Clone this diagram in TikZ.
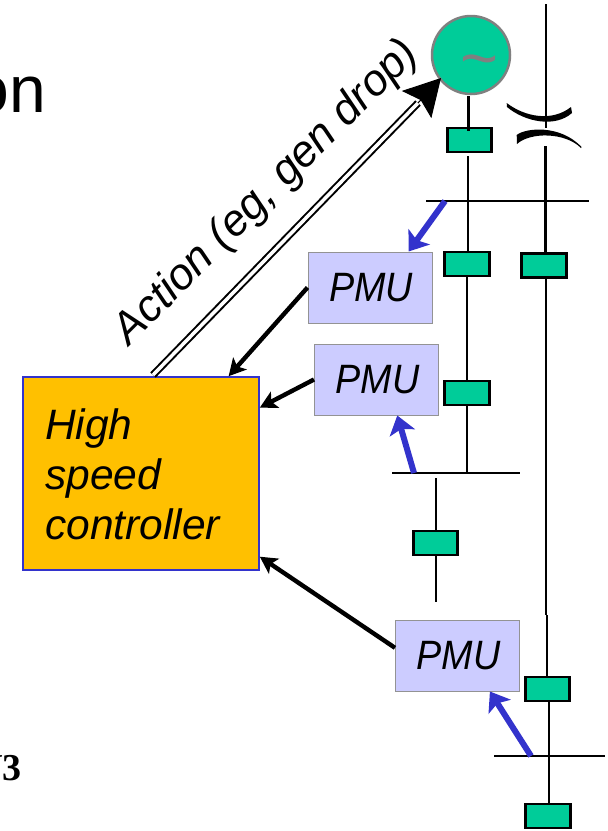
\documentclass[tikz,border=0pt]{standalone}
\usepackage{fontspec}
\setmainfont{Liberation Sans}
\newfontfamily\serifbold{Liberation Serif}
\newfontfamily\pmufont[FakeStretch=0.92]{Liberation Sans}
\usetikzlibrary{arrows.meta}
\definecolor{breakergreen}{HTML}{00CC99}
\definecolor{pmufill}{HTML}{CCCCFF}
\definecolor{ctrlfill}{HTML}{FFC000}
\definecolor{pmublue}{HTML}{3333CC}
\newcommand{\pmulabel}{\hspace{2pt}\raisebox{-1.5pt}{PMU}}
\tikzset{
  x=1pt,y=-1pt,
  breaker/.style={draw=black,line width=2.6pt,fill=breakergreen,minimum width=44.5pt,minimum height=24pt,inner sep=0pt,outer sep=0pt},
  pmubox/.style={draw=gray!85,line width=1pt,fill=pmufill,minimum width=124pt,minimum height=71pt,inner sep=0pt,font=\pmufont\fontsize{41}{41}\selectfont\itshape},
  wire/.style={draw=black,line width=2.5pt},
  busbar/.style={draw=black,line width=2.2pt},
  signal/.style={draw=black,line width=4.4pt,-{Stealth[length=17pt,width=18pt,inset=4pt]}},
  tap/.style={draw=pmublue,line width=6pt,-{Stealth[length=18pt,width=26pt,inset=4pt]}},
  ctrllabel/.style={anchor=base west,inner sep=0pt,font=\fontsize{42.5}{50}\selectfont\itshape},
}
\begin{document}
\begin{tikzpicture}
\useasboundingbox (0,0) rectangle (608,831);
\clip (0,0) rectangle (608,831);
\fill[white] (0,0) rectangle (608,831);
% clipped slide text
\node[anchor=base east,inner sep=0pt,font=\fontsize{66}{66}\selectfont] (title) at (46,112) {on};
\node[anchor=base east,inner sep=0pt,font=\serifbold\bfseries\fontsize{38}{38}\selectfont] (pagenum) at (22,780) {V3};
% bus bars
\coordinate (b1w) at (426,201); \coordinate (b1e) at (589,201);
\coordinate (b2w) at (392,473); \coordinate (b2e) at (520,473);
\coordinate (b3w) at (494,756); \coordinate (b3e) at (605,756);
\draw[busbar] (b1w) -- (b1e);
\draw[busbar] (b2w) -- (b2e);
\draw[busbar] (b3w) -- (b3e);
% generator
\node[circle,draw=gray,line width=2.5pt,fill=breakergreen,minimum size=78pt,inner sep=0pt] (gen) at (471,55) {};
\node[text=gray,inner sep=0pt,font=\fontsize{65}{65}\selectfont] (tilde) at (479,68) {\char"007E};
% wire ends
\coordinate (topr) at (546,4);
\coordinate (capa) at (546,128);
\coordinate (t2a) at (436,478); \coordinate (t2b) at (436,602);
% wires
\draw[wire] (topr) -- (capa);
\draw[wire] (468.5,96) -- (468.5,131);
\draw[wire] (468,156) -- (468,251);
\draw[wire] (545.5,146) -- (545.5,253);
\draw[wire] (467,277) -- (467,473);
\draw[wire] (t2a) -- (t2b);
\draw[wire] (546,279) -- (546,615);
\draw[wire] (547,615) -- (547,676);
\draw[wire] (549,702) -- (549,803);
% capacitor
\fill[black] (506.7,103) .. controls (525,117) and (552,122) .. (571,107) -- (572,113) .. controls (555,128) and (525,122) .. (507,107) -- cycle;
\fill[black] (516.7,135) .. controls (525,128) and (560,124) .. (581.5,147) -- (581,148) .. controls (565,132) and (530,132) .. (517,144) -- cycle;
% breakers
\node[breaker] (br1) at (469.5,140) {};
\draw[wire] (468.5,127) -- (468.5,131);
\node[breaker] (br2) at (467,264) {};
\node[breaker] (br3) at (544,265.5) {};
\node[breaker] (br4) at (467,393) {};
\node[breaker] (br5) at (435.5,543) {};
\node[breaker] (br6) at (547.5,689) {};
\node[breaker] (br7) at (548,816) {};
% controller
\node[draw=pmublue,line width=1.6pt,fill=ctrlfill,minimum width=236pt,minimum height=193pt,inner sep=0pt] (ctrl) at (141,473.5) {};
\node[ctrllabel] (ctrltext) at (45,439) {High};
\node[ctrllabel] (ctrltextb) at (45,489) {speed};
\node[ctrllabel] (ctrltextc) at (45,539) {controller};
% PMUs
\node[pmubox] (pmua) at (370,287.5) {\pmulabel};
\node[pmubox] (pmub) at (376.5,379.5) {\pmulabel};
\node[pmubox] (pmuc) at (457.5,655.5) {\pmulabel};
% signals
\draw[signal] (pmua.west) -- (ctrl.48.6);
\draw[signal] (pmub.west) -- (ctrl.29.8);
\draw[signal] (pmuc.173) -- (ctrl.-35.6);
% taps
\coordinate (tap1) at (445,201);
\coordinate (tap2) at (414,473);
\coordinate (tap3) at (531,756);
\draw[tap] (tap1) -- (pmua.43.8);
\draw[tap] (tap2) -- (pmub.-60);
\draw[tap] (tap3) -- (pmuc.-48.3);
% action
\coordinate (acts) at (153,375);
\coordinate (actm) at (418,103);
\coordinate (acth) at (441,78);
\draw[double=white,double distance=3.5pt,line width=2pt,draw=black] (acts) -- (actm);
\draw[line width=1pt,-{Stealth[length=36pt,width=40pt,inset=6pt]}] (actm) -- (acth);
\node[rotate=45,inner sep=0pt,font=\fontsize{44}{44}\selectfont\itshape] (action) at (267,193) {Action (eg, gen drop)};
\end{tikzpicture}
\end{document}
